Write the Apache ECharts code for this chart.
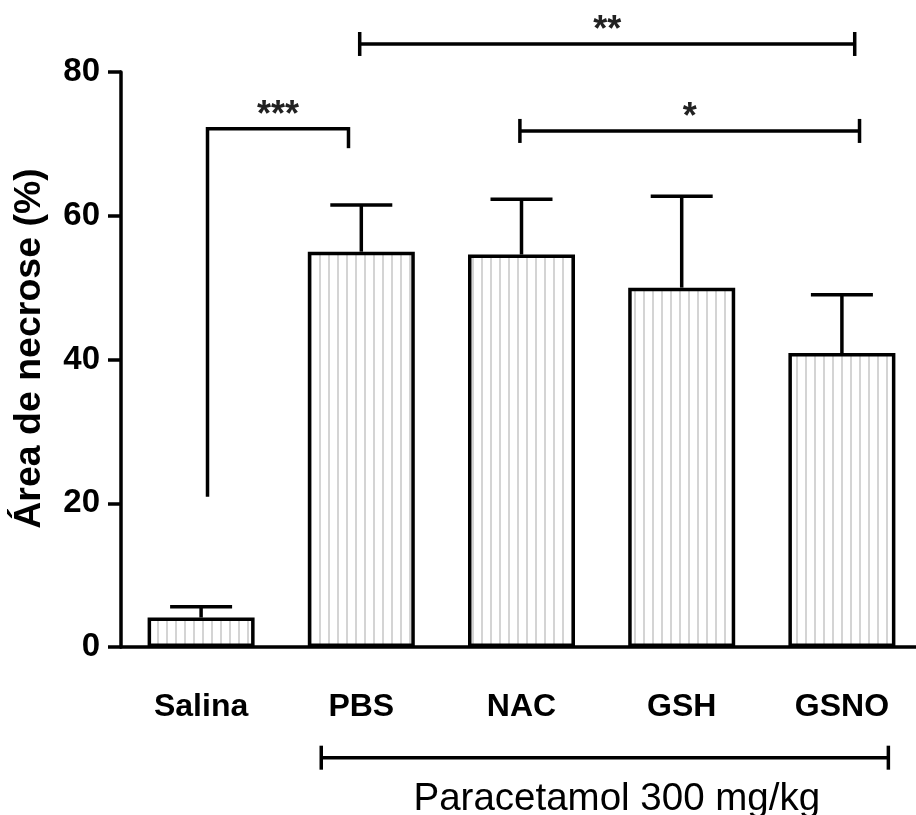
<!DOCTYPE html>
<html>
<head>
<meta charset="utf-8">
<script src="https://cdn.jsdelivr.net/npm/echarts@6/dist/echarts.min.js"></script>
<style>
  html, body { margin: 0; padding: 0; background: #fff; }
  #main { width: 916px; height: 815px; }
</style>
</head>
<body>
<div id="main"></div>
<script>
// dados
var categories = ['Salina', 'PBS', 'NAC', 'GSH', 'GSNO'];
var means = [4.1, 55.0, 54.6, 50.0, 40.9];
var errTop = [5.6, 61.5, 62.3, 62.7, 49.0];
var yTicks = [0, 20, 40, 60, 80];

// colchetes de significância (x em posição de categoria, y em %)
var brLabels = ['***', '**', '*', 'Paracetamol 300 mg/kg'];
var brFrom = [0.04, 0.99, 1.99, 0.75];
var brTo = [0.92, 4.08, 4.11, 4.29];
var brY = [72.1, 83.9, 71.8, -15.4];
var brLeftEnd = [20.9, null, null, null];
var brRightEnd = [69.4, null, null, null];

var FONT = 'Liberation Sans';
var LW = 3.5;

function hatch() {
  var c = document.createElement('canvas');
  c.width = 9; c.height = 9;
  var ctx = c.getContext('2d');
  ctx.fillStyle = '#fff';
  ctx.fillRect(0, 0, 9, 9);
  ctx.fillStyle = '#d4d4d4';
  ctx.fillRect(4, 0, 2, 9);
  return c;
}

function renderErr(params, api) {
  var i = api.value(0);
  var base = api.coord([i, api.value(1)]);
  var top = api.coord([i, api.value(2)]);
  var st = { stroke: '#000', lineWidth: LW };
  return {
    type: 'group',
    children: [
      { type: 'line', shape: { x1: base[0], y1: base[1], x2: top[0], y2: top[1] }, style: st },
      { type: 'line', shape: { x1: top[0] - 31, y1: top[1], x2: top[0] + 31, y2: top[1] }, style: st }
    ]
  };
}

function renderBracket(params, api) {
  var k = params.dataIndex;
  var a = api.coord([brFrom[k], brY[k]]);
  var b = api.coord([brTo[k], brY[k]]);
  var st = { stroke: '#000', lineWidth: LW };
  var kids = [{ type: 'line', shape: { x1: a[0], y1: a[1], x2: b[0], y2: b[1] }, style: st }];
  if (brLeftEnd[k] != null) {
    var l = api.coord([brFrom[k], brLeftEnd[k]]);
    var r = api.coord([brTo[k], brRightEnd[k]]);
    kids.push({ type: 'line', shape: { x1: a[0], y1: a[1] - LW / 2, x2: a[0], y2: l[1] }, style: st });
    kids.push({ type: 'line', shape: { x1: b[0], y1: b[1] - LW / 2, x2: b[0], y2: r[1] }, style: st });
  } else {
    kids.push({ type: 'line', shape: { x1: a[0], y1: a[1] - 12, x2: a[0], y2: a[1] + 12 }, style: st });
    kids.push({ type: 'line', shape: { x1: b[0], y1: b[1] - 12, x2: b[0], y2: b[1] + 12 }, style: st });
  }
  var below = brY[k] < 0;
  kids.push({
    type: 'text',
    style: {
      text: brLabels[k],
      x: (a[0] + b[0]) / 2 + (below ? 12 : 0),
      y: below ? a[1] + 42 : a[1] - 13,
      align: 'center',
      verticalAlign: 'middle',
      fontFamily: FONT,
      fontWeight: below ? 'normal' : 'bold',
      fontSize: below ? 38.5 : 36,
      fill: below ? '#000' : '#222'
    }
  });
  return { type: 'group', children: kids };
}

var chart = echarts.init(document.getElementById('main'));
chart.setOption({
  animation: false,
  grid: { left: 121, right: -6, top: 72, bottom: 168, containLabel: false, outerBoundsMode: 'none' },
  xAxis: [{
    type: 'category',
    data: categories,
    axisLine: { lineStyle: { color: '#000', width: LW } },
    axisTick: { alignWithLabel: true, length: 16, lineStyle: { color: '#000', width: LW } },
    axisLabel: { color: '#000', fontFamily: FONT, fontWeight: 'bold', fontSize: 32, margin: 44 }
  }, {
    type: 'value', min: -0.5, max: 4.5, show: false
  }],
  yAxis: {
    type: 'value',
    min: yTicks[0],
    max: yTicks[yTicks.length - 1],
    interval: yTicks[1] - yTicks[0],
    name: 'Área de necrose (%)',
    nameLocation: 'middle',
    nameRotate: 90,
    nameGap: 72,
    nameTextStyle: { color: '#000', fontFamily: FONT, fontWeight: 'bold', fontSize: 37.5, padding: [0, 0, 0, 22] },
    splitLine: { show: false },
    axisLine: { show: true, onZero: false, lineStyle: { color: '#000', width: LW } },
    axisTick: { show: true, length: 13, lineStyle: { color: '#000', width: LW } },
    axisLabel: { color: '#000', fontFamily: FONT, fontWeight: 'bold', fontSize: 33, margin: 21 }
  },
  series: [{
    type: 'bar',
    data: means,
    barWidth: 107,
    itemStyle: {
      color: { image: hatch(), repeat: 'repeat' },
      borderColor: '#000',
      borderWidth: LW
    }
  }, {
    type: 'custom',
    data: means.map(function (m, i) { return [i, m, errTop[i]]; }),
    renderItem: renderErr,
    z: 3
  }, {
    type: 'custom',
    xAxisIndex: 1,
    data: brLabels.map(function (t, i) { return [brFrom[i], brY[i]]; }),
    renderItem: renderBracket,
    clip: false,
    z: 4
  }]
});
</script>
</body>
</html>
